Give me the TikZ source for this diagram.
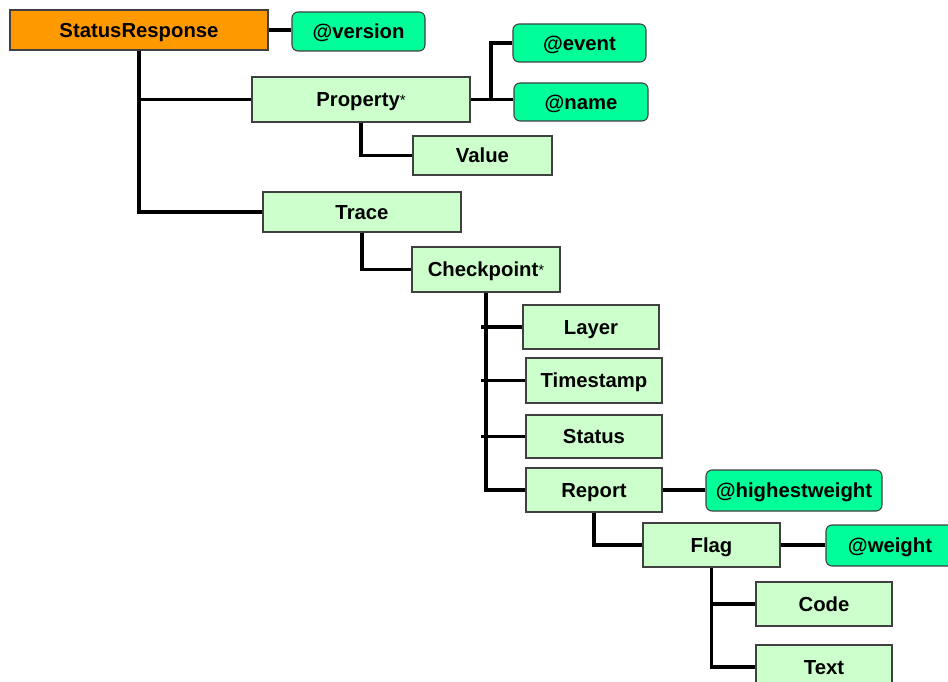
\documentclass[tikz,border=0pt]{standalone}
\usepackage{fontspec}
\setmainfont{Liberation Sans}
\definecolor{elemgreen}{HTML}{CCFFCC}
\definecolor{attrgreen}{HTML}{00FF99}
\definecolor{rootorange}{HTML}{FF9900}
\definecolor{boxline}{HTML}{404040}
\newcommand{\smallstar}{{\fontsize{15}{15}\selectfont\mdseries\raisebox{1pt}{*}}}
\begin{document}
\begin{tikzpicture}[x=1pt,y=-1pt,
  every node/.style={inner sep=0pt, text height=14.5pt, text depth=0pt, font=\fontsize{20.3}{24}\selectfont\bfseries},
  elem/.style={draw=boxline, line width=1.1pt, fill=elemgreen, rectangle},
  attr/.style={draw=boxline, line width=1.1pt, fill=attrgreen, rectangle, rounded corners=6pt},
  root/.style={draw=boxline, line width=1.1pt, fill=rootorange, rectangle},
  conn/.style={line width=3.5pt, black}]
\useasboundingbox (0,0) rectangle (948,682);
\node[root, minimum width=258pt, minimum height=40pt] (SR) at (139,30) {StatusResponse};
\node[attr, minimum width=133pt, minimum height=39pt] (version) at (358.5,31.5) {@version};
\node[elem, minimum width=218pt, minimum height=45pt] (Property) at (361,99.5) {Property\smallstar};
\node[elem, minimum width=139pt, minimum height=39pt] (Value) at (482.5,155.5) {Value};
\node[attr, minimum width=133pt, minimum height=38pt] (event) at (579.5,43) {@event};
\node[attr, minimum width=134pt, minimum height=38pt] (name) at (581,102) {@name};
\node[elem, minimum width=198pt, minimum height=40pt] (Trace) at (362,212) {Trace};
\node[elem, minimum width=148pt, minimum height=45pt] (Checkpoint) at (486,269.5) {Checkpoint\smallstar};
\node[elem, minimum width=136pt, minimum height=44pt] (Layer) at (591,327) {Layer};
\node[elem, minimum width=136pt, minimum height=45pt] (Timestamp) at (594,380.5) {Timestamp};
\node[elem, minimum width=136pt, minimum height=43pt] (Status) at (594,436.5) {Status};
\node[elem, minimum width=136pt, minimum height=44pt] (Report) at (594,490) {Report};
\node[attr, minimum width=176pt, minimum height=41pt] (highest) at (794,490.5) {@highestweight};
\node[elem, minimum width=137pt, minimum height=44pt] (Flag) at (711.5,545) {Flag};
\node[attr, minimum width=128pt, minimum height=41pt] (weight) at (890,545.5) {@weight};
\node[elem, minimum width=136pt, minimum height=44pt] (Code) at (824,604) {Code};
\node[elem, minimum width=136pt, minimum height=44pt] (Text) at (824,667) {Text};
\coordinate (pj) at (491,99.5);
\coordinate (stub) at (481,0);
\draw[conn] (SR.east) -- (SR.east -| version.west);
\draw[conn] (SR.south) |- (Property.west);
\draw[conn] (SR.south) |- (Trace.west);
\draw[conn] (Property.south) |- (Value.west);
\draw[conn] (Property.east) -- (pj) |- (event.west);
\draw[conn] (pj) -- (pj -| name.west);
\draw[conn] (Trace.south) |- (Checkpoint.west);
\draw[conn] (Checkpoint.south) |- (Report.west);
\draw[conn] (Layer.west) -- (Layer.west -| stub);
\draw[conn] (Timestamp.west) -- (Timestamp.west -| stub);
\draw[conn] (Status.west) -- (Status.west -| stub);
\draw[conn] (Report.east) -- (Report.east -| highest.west);
\draw[conn] (Report.south) |- (Flag.west);
\draw[conn] (Flag.east) -- (Flag.east -| weight.west);
\draw[conn] (Flag.south) |- (Code.west);
\draw[conn] (Flag.south) |- (Text.west);
\end{tikzpicture}
\end{document}
